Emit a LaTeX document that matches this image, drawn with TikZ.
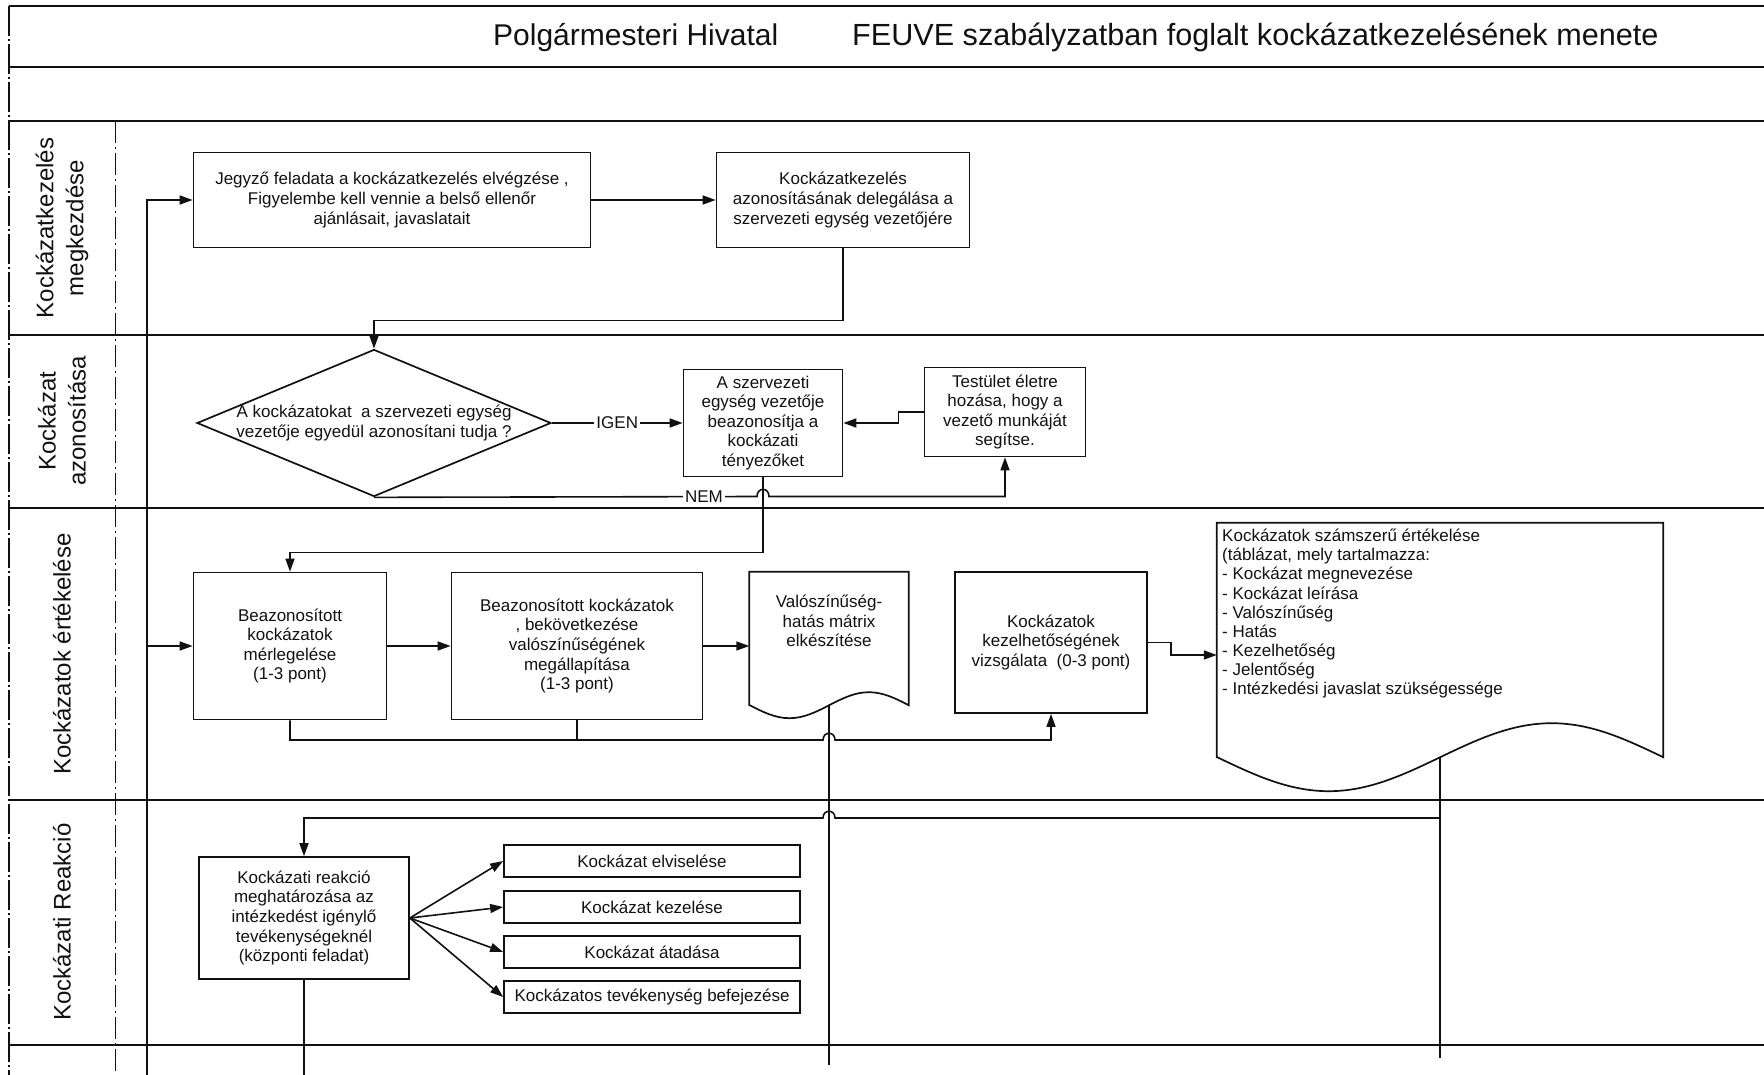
\documentclass[tikz,border=0pt]{standalone}
\usepackage{fontspec}
\setmainfont{Liberation Sans}
\usepackage{tikz}
\usetikzlibrary{arrows.meta,shapes.geometric,calc}
\definecolor{ink}{HTML}{111111}
\newcommand{\dobozbetu}{\fontsize{17}{19.6}\selectfont}
\newcommand{\cimbetu}{\fontsize{30}{33}\selectfont}
\newcommand{\savbetu}{\fontsize{24}{30}\selectfont}

\begin{document}
\begin{tikzpicture}[x=1pt,y=-1pt,font=\dobozbetu,text=ink,
  box/.style={draw=ink,line width=1.7pt,inner sep=0pt,align=center},
  frame/.style={draw=ink,line width=1.7pt},
  lane/.style={draw=ink,line width=2.4pt},
  conn/.style={draw=ink,line width=1.6pt},
  arr/.style={conn,-{Triangle[length=13pt,width=9pt]}},
  wire/.style={draw=ink,line width=1.1pt},
  lbl/.style={fill=white,inner sep=2pt}]
  \useasboundingbox (0,0) rectangle (1764,1075);
  \foreach \y in {6,67,121,335,508,800,1045}{
    \draw[lane] (9,\y) -- (1764,\y);
  }
  \draw[ink,line width=1.2pt,dash pattern=on 30pt off 3pt on 2pt off 3pt] (9,6) -- (9,1075);
  \draw[ink,line width=1pt,dash pattern=on 22pt off 4pt on 2pt off 4pt] (115,121) -- (115,1075);
  \node[anchor=base west,inner sep=0pt,font=\cimbetu] (hivatal) at (493,46) {Polgármesteri Hivatal};
  \node[anchor=base west,inner sep=0pt,font=\fontsize{30.6}{33}\selectfont] (cim) at (852,46) {FEUVE szabályzatban foglalt kockázatkezelésének menete};
  \foreach \n/\y/\txt in {lkezd/228/{Kockázatkezelés\\megkezdése}, lazon/421/{Kockázat\\azonosítása},
      lert/654/{Kockázatok értékelése}, lreak/922/{Kockázati Reakció}}{
    \node[rotate=90,align=center,font=\savbetu] (\n) at (62,\y) {\txt};
  }

  \node[box,minimum width=397pt,minimum height=95pt] (jegyzo) at (392,200) {Jegyző feladata a kockázatkezelés elvégzése ,\\Figyelembe kell vennie a belső ellenőr\\ajánlásait, javaslatait};
  \node[box,minimum width=253pt,minimum height=95pt] (deleg) at (843,200) {Kockázatkezelés\\azonosításának delegálása a\\szervezeti egység vezetőjére};
  \node[draw=ink,line width=1.7pt,diamond,inner sep=0pt,minimum width=354pt,minimum height=147pt] (dontes) at (374,423) {};
  \node[align=center,inner sep=0pt] (dontestxt) at (dontes.center) {A kockázatokat \ a szervezeti egység\\vezetője egyedül azonosítani tudja ?};
  \node[box,minimum width=159pt,minimum height=107pt] (vezeto) at (763,423) {A szervezeti\\egység vezetője\\beazonosítja a\\kockázati\\tényezőket};
  \node[box,minimum width=161pt,minimum height=89pt] (testulet) at (1005,412) {Testület életre\\hozása, hogy a\\vezető munkáját\\segítse.};

  \node[box,minimum width=193pt,minimum height=147pt] (merleg) at (290,646) {Beazonosított\\kockázatok\\mérlegelése\\(1-3 pont)};
  \node[box,minimum width=251pt,minimum height=147pt] (valosz) at (577,646) {Beazonosított kockázatok\\, bekövetkezése\\valószínűségének\\megállapítása\\(1-3 pont)};
  \node[inner sep=0pt,minimum width=159pt,minimum height=133pt] (matrix) at (829,638.5) {};
  \draw[frame] (matrix.south west) -- (matrix.north west) -- (matrix.north east) -- (matrix.south east)
    sin ++(-39.75,-13) cos ++(-39.75,13) sin ++(-39.75,13) cos ++(-39.75,-13) -- cycle;
  \node[align=center] (matrixtxt) at (829,621) {Valószínűség-\\hatás mátrix\\elkészítése};
  \node[box,minimum width=192pt,minimum height=141pt] (kezelh) at (1051,642.5) {Kockázatok\\kezelhetőségének\\vizsgálata\ \ (0-3 pont)};
  \node[inner sep=0pt,minimum width=446pt,minimum height=234pt] (szamszeru) at (1440,640) {};
  \draw[frame] (szamszeru.south west) -- (szamszeru.north west) -- (szamszeru.north east) -- (szamszeru.south east)
    sin ++(-111.5,-34) cos ++(-111.5,34) sin ++(-111.5,34) cos ++(-111.5,-34) -- cycle;
  \node[anchor=north west,align=left,inner sep=0pt,font=\fontsize{17}{19.1}\selectfont] (szamtxt) at (1222,529) {Kockázatok számszerű értékelése\\(táblázat, mely tartalmazza:\\- Kockázat megnevezése\\- Kockázat leírása\\- Valószínűség\\- Hatás\\- Kezelhetőség\\- Jelentőség\\- Intézkedési javaslat szükségessége};

  \node[box,minimum width=210pt,minimum height=122pt] (reakcio) at (304,918) {Kockázati reakció\\meghatározása az\\intézkedést igénylő\\tevékenységeknél\\(központi feladat)};
  \foreach \n/\y/\txt in {elvis/861/Kockázat elviselése, kezel/907/Kockázat kezelése,
      atad/952/Kockázat átadása, befej/997/Kockázatos tevékenység befejezése}{
    \node[box,minimum width=296pt,minimum height=32pt] (\n) at (652,\y) {\txt};
    \draw[arr] (reakcio.east) -- (\n.west);
  }

  \coordinate (be) at (147,1075);
  \draw[arr] (be) |- (jegyzo.west);
  \draw[arr] (be |- merleg.west) -- (merleg.west);
  \draw[arr] (jegyzo.east) -- (deleg.west);
  \draw[arr] (deleg.south) -- ++(0,72) -| (dontes.north);
  \draw[arr] (dontes.east) -- node[lbl] (igen) {IGEN} (vezeto.west);
  \draw[arr] (testulet.west) -- ++(-25,0) |- (vezeto.east);
  \draw[arr] (dontes.south) -- (757,496.5) .. controls (757,487) and (769,487) .. (769,496.5) -| (testulet.south);
  \node[lbl] (nem) at (704,496.5) {NEM};
  \draw[arr] (vezeto.south) -- ++(0,75) -| (merleg.north);
  \draw[arr] (merleg.east) -- (valosz.west);
  \draw[arr] (valosz.east) -- (valosz.east -| matrix.west);
  \draw[arr] (merleg.south) |- (823,740) .. controls (823,731) and (835,731) .. (835,740) -| (kezelh.south);
  \draw[conn] (valosz.south) -- ++(0,20.5);
  \draw[arr] (kezelh.east) -- ++(23,0) |- ($(szamszeru.west)+(0,15)$);
  \coordinate (ki1) at (829,1065);
  \draw[wire] (matrix.south) -- (ki1);
  \draw[arr] (szamszeru.south) |- (835,818) .. controls (835,809) and (823,809) .. (823,818) -| (reakcio.north);
  \coordinate (ki2) at (1440,1058);
  \draw[wire] (szamszeru.south) -- (ki2);
  \coordinate (ki3) at (304,1075);
  \draw[wire] (reakcio.south) -- (ki3);
\end{tikzpicture}
\end{document}
